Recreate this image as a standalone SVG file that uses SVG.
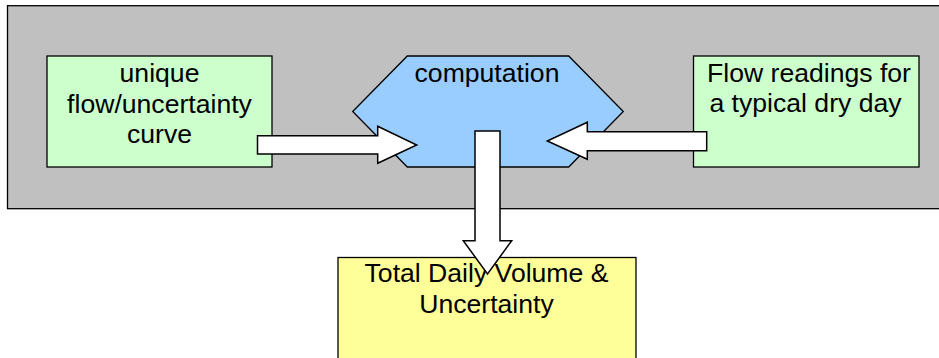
<svg xmlns="http://www.w3.org/2000/svg" width="939" height="358" viewBox="0 0 939 358">
<style>
.box{stroke:#000;stroke-width:1.3}
.t{font-family:"Liberation Sans",Arial,sans-serif;font-size:26.6px;fill:#000;text-anchor:middle}
.arr{fill:#fff;stroke:#000;stroke-width:1.5;stroke-linejoin:miter}
</style>
<rect x="0" y="0" width="939" height="358" fill="#fff"/>
<g id="container">
<rect class="box" x="7.5" y="5.7" width="940" height="203" fill="#c0c0c0" stroke-width="1.6"/>
</g>
<g id="curve">
<rect class="box" x="47" y="56" width="225" height="111" fill="#ccffcc"/>
<text class="t" x="159.5" y="82">unique</text>
<text class="t" x="159.5" y="112.5">flow/uncertainty</text>
<text class="t" x="159.5" y="143">curve</text>
</g>
<g id="computation">
<polygon class="box" points="352.7,111.5 407.3,56 568.7,56 623.3,111.5 568.7,167 407.3,167" fill="#99ccff"/>
<text class="t" x="487" y="82">computation</text>
</g>
<g id="readings">
<rect class="box" x="693.5" y="56" width="225.5" height="111" fill="#ccffcc"/>
<text class="t" x="809" y="82">Flow readings for</text>
<text class="t" x="805.5" y="111.5">a typical dry day</text>
</g>
<g id="total">
<rect class="box" x="338" y="257.5" width="298" height="120" fill="#ffff99"/>
<text class="t" x="486.5" y="282">Total Daily Volume &amp;</text>
<text class="t" x="486.5" y="312.5">Uncertainty</text>
</g>
<g id="connectors">
<polygon class="arr" points="257.5,135.7 377.7,135.7 377.7,126.3 416.7,145 377.7,163.3 377.7,154 257.5,154"/>
<polygon class="arr" points="706.7,131.7 587.3,131.7 587.3,122.3 547.3,141 587.3,159.3 587.3,150.7 706.7,150.7"/>
<polygon class="arr" points="475,131 500,131 500,240.7 511.7,240.7 487.5,274 463.3,240.7 475,240.7"/>
</g>
</svg>
